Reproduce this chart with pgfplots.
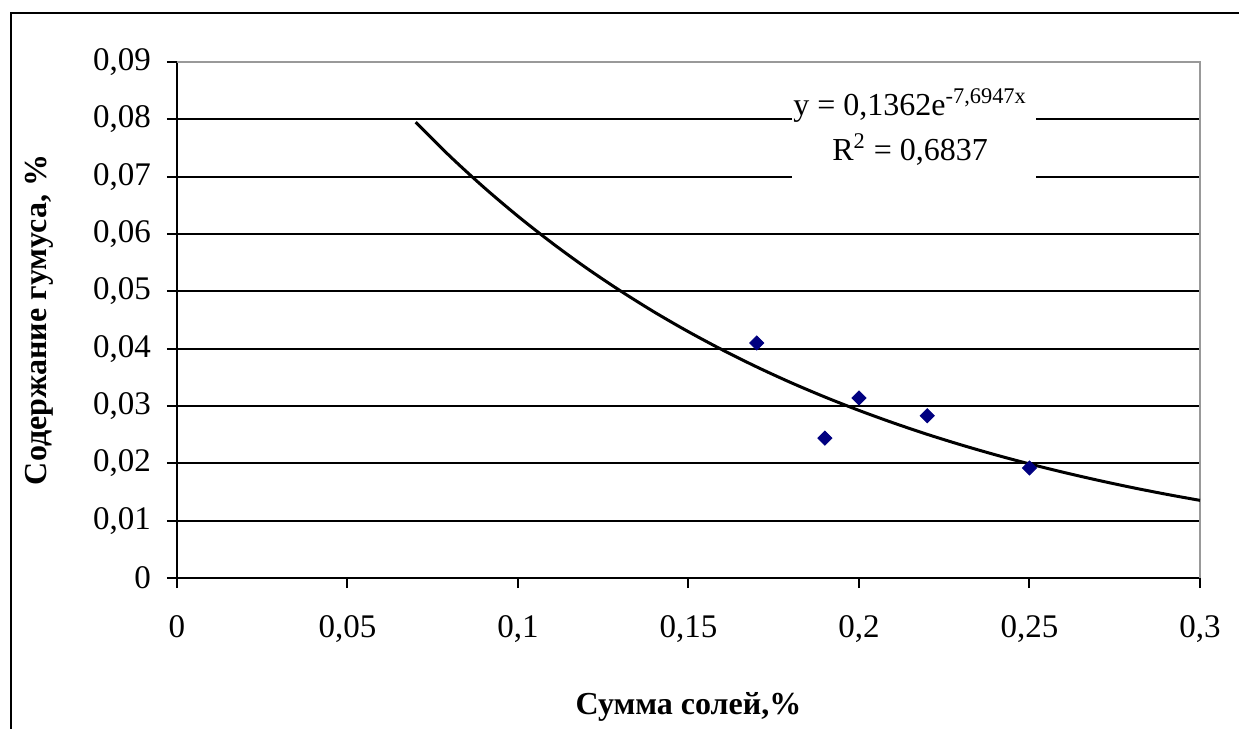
\documentclass[border=0pt]{standalone}
\usepackage{fontspec}
\setmainfont{Liberation Serif}
\usepackage{pgfplots}
\pgfplotsset{compat=1.18}
\definecolor{navy}{RGB}{0,0,128}
\begin{document}
\begin{tikzpicture}
% outer chart frame (runs off the right and bottom edges)
\begin{scope}
\clip (-88.5pt,-75.5pt) rectangle (531pt,289pt);
\draw[line width=1pt] (-83pt,-100pt) -- (-83pt,282.5pt) -- (560pt,282.5pt);
\end{scope}
\begin{axis}[
  at={(0,0)}, anchor=south west,
  scale only axis, width=511.5pt, height=258pt,
  xmin=0, xmax=0.3, ymin=0, ymax=0.09,
  xtick={0,0.05,0.1,0.15,0.2,0.25,0.3},
  ytick={0,0.01,0.02,0.03,0.04,0.05,0.06,0.07,0.08,0.09},
  scaled x ticks=false, scaled y ticks=false,
  /pgf/number format/.cd, fixed, precision=2, use comma, assume math mode=true, /pgfplots/.cd,
  axis lines*=left,
  axis line style={line width=1pt},
  tick align=outside, major tick length=5pt,
  tick style={black, line width=1pt},
  ymajorgrids, grid style={black, line width=1pt},
  tick label style={font=\fontsize{16.5}{19}\selectfont},
  xticklabel style={yshift=-10pt},
  yticklabel style={xshift=-4.5pt},
  xlabel={\textbf{Сумма солей,\%}},
  ylabel={\textbf{Содержание гумуса, \%}},
  label style={font=\fontsize{16}{19}\selectfont},
  xlabel style={at={(axis description cs:0.5,-0.2655)}, anchor=base},
  ylabel style={at={(axis description cs:-0.135,0.5)}, anchor=center},
  clip=false,
]
% grey top and right border of the plot area
\draw[gray!80, line width=1pt] (rel axis cs:0,1) -- (rel axis cs:1,1) -- (rel axis cs:1,0);
% exponential trend line
\addplot[black, line width=1.5pt, smooth] coordinates {
(0.07,0.07949) (0.08,0.07359) (0.09,0.06814) (0.10,0.06310) (0.11,0.05843)
(0.12,0.05410) (0.13,0.05010) (0.14,0.04638) (0.15,0.04295) (0.16,0.03977)
(0.17,0.03682) (0.18,0.03409) (0.19,0.03157) (0.20,0.02923) (0.21,0.02707)
(0.22,0.02506) (0.23,0.02321) (0.24,0.02149) (0.25,0.01990) (0.26,0.01843)
(0.27,0.01706) (0.28,0.01579) (0.29,0.01462) (0.30,0.01354)};
% measured points
\addplot[only marks, mark=square*, mark size=2.5pt, mark options={navy, fill=navy, rotate=45}] coordinates {
(0.17,0.0410) (0.19,0.0244) (0.20,0.0314) (0.22,0.0283) (0.25,0.0192)};
% equation label
\fill[white] (axis cs:0.1804,0.0686) rectangle (axis cs:0.2519,0.0893);
\node[anchor=base, font=\fontsize{16}{19}\selectfont, inner sep=0pt] at (axis cs:0.2150,0.0806) {y = 0,1362e\textsuperscript{-7,6947x}};
\node[anchor=base, font=\fontsize{16}{19}\selectfont, inner sep=0pt] at (axis cs:0.2150,0.0728) {R\textsuperscript{2} = 0,6837};
\end{axis}
\pgfresetboundingbox
\useasboundingbox (-88.5pt,-75.5pt) rectangle (531pt,289pt);
\end{tikzpicture}
\end{document}
